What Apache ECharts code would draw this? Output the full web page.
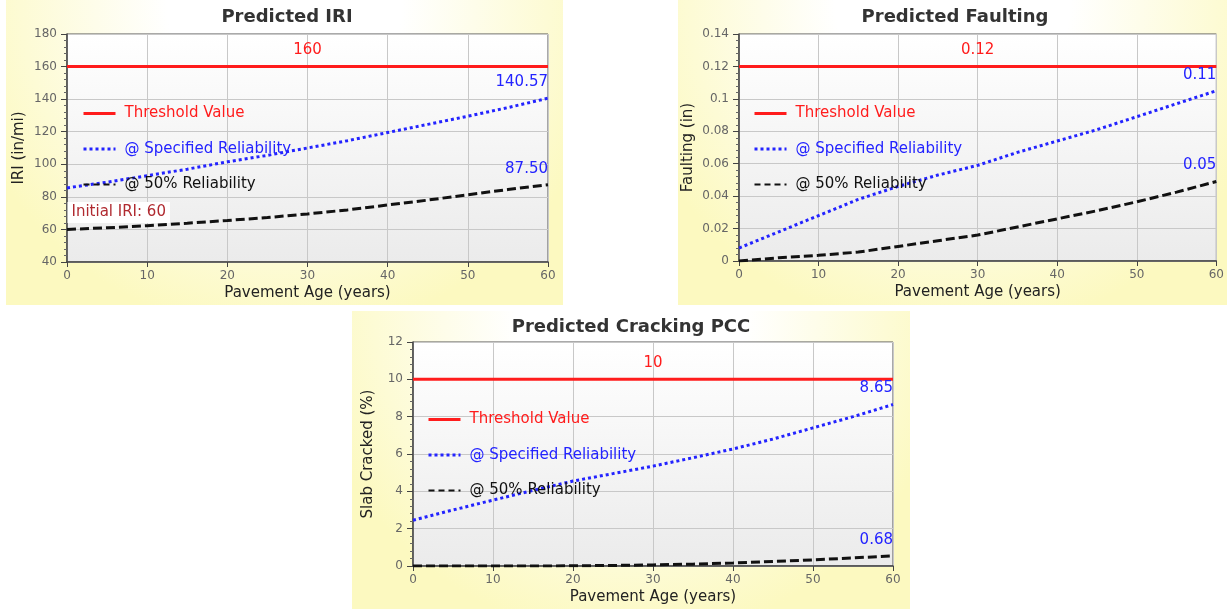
<!DOCTYPE html>
<html>
<head>
<meta charset="utf-8">
<title>Predicted distress</title>
<script src="https://cdn.jsdelivr.net/npm/echarts@6/dist/echarts.min.js"></script>
<style>
  html, body { margin: 0; padding: 0; background: #fff; }
  #chart { width: 1227px; height: 609px; }
</style>
</head>
<body>
<div id="chart"></div>
<script>
// pavement age (years), shared by all three charts
var ages = [0, 5, 10, 15, 20, 25, 30, 35, 40, 45, 50, 55, 60];

// Predicted IRI (in/mi)
var iriThreshold = 160;
var iriSpecified = [85.5, 89, 93, 97, 101.5, 105.5, 110, 114.5, 119.5, 124.5, 129.5, 134.8, 140.57];
var iri50 = [60, 61, 62.3, 63.8, 65.5, 67.3, 69.5, 72, 75, 78, 81.3, 84.5, 87.5];
var iriEndLabels = ['140.57', '87.50'];
var iriInitial = 'Initial IRI: 60';

// Predicted Faulting (in)
var faultThreshold = 0.12;
var faultSpecified = [0.008, 0.018, 0.028, 0.038, 0.046, 0.053, 0.059, 0.067, 0.074, 0.081, 0.089, 0.097, 0.105];
var fault50 = [0, 0.002, 0.0035, 0.0055, 0.009, 0.0125, 0.016, 0.021, 0.026, 0.031, 0.0365, 0.0425, 0.049];
var faultEndLabels = ['0.11', '0.05'];

// Predicted Cracking PCC (% slabs cracked)
var crackThreshold = 10;
var crackSpecified = [2.45, 3.0, 3.53, 4.05, 4.55, 4.95, 5.35, 5.8, 6.27, 6.8, 7.4, 8.0, 8.65];
var crack50 = [0, 0, 0, 0, 0.01, 0.03, 0.06, 0.1, 0.16, 0.24, 0.33, 0.43, 0.55];
var crackEndLabels = ['8.65', '0.68'];

var FONT = '"DejaVu Sans", Verdana, sans-serif';
var RED = '#ff1c1c', BLUE = '#2323ff', BLACK = '#111';
var NAMES = ['Threshold Value', '@ Specified Reliability', '@ 50% Reliability'];

var chart = echarts.init(document.getElementById('chart'));

// panel background: white near the title, light yellow towards the bottom
function panel(x, y, w, h) {
  return {
    type: 'rect', silent: true, z: -10,
    shape: { x: x, y: y, width: w, height: h },
    style: {
      fill: new echarts.graphic.RadialGradient(0.5, 0, 1.1, [
        { offset: 0, color: '#ffffff' },
        { offset: 0.35, color: '#ffffff' },
        { offset: 1, color: '#fcf9c0' }
      ])
    }
  };
}

function grid(left, top, width, height) {
  return {
    left: left, top: top, width: width, height: height,
    show: true, borderColor: '#555', borderWidth: 1,
    backgroundColor: new echarts.graphic.LinearGradient(0, 0, 0, 1, [
      { offset: 0, color: '#ffffff' },
      { offset: 1, color: '#ebebeb' }
    ])
  };
}

function xAxis(gi) {
  return {
    type: 'value', gridIndex: gi, min: 0, max: 60, interval: 10,
    name: 'Pavement Age (years)', nameLocation: 'middle', nameGap: 24,
    nameTextStyle: { fontSize: 15, color: '#222', fontFamily: FONT },
    axisLine: { show: true, onZero: false, lineStyle: { color: '#444', width: 1.5 } },
    axisTick: { show: true, length: 5, lineStyle: { color: '#444' } },
    axisLabel: { fontSize: 12, color: '#666', margin: 8, fontFamily: FONT },
    splitLine: { show: true, lineStyle: { color: '#c8c8c8' } }
  };
}

function yAxis(gi, min, max, interval, name, gap) {
  return {
    type: 'value', gridIndex: gi, min: min, max: max, interval: interval,
    name: name, nameLocation: 'middle', nameGap: gap,
    nameTextStyle: { fontSize: 15, color: '#222', fontFamily: FONT },
    axisLine: { show: true, onZero: false, lineStyle: { color: '#444', width: 1.5 } },
    axisTick: { show: true, length: 6, lineStyle: { color: '#444' } },
    minorTick: { show: true, splitNumber: 5, length: 3, lineStyle: { color: '#666' } },
    axisLabel: { fontSize: 12, color: '#666', margin: 10, fontFamily: FONT },
    splitLine: { show: true, lineStyle: { color: '#c8c8c8' } }
  };
}

function legend(left, top) {
  return {
    orient: 'vertical', left: left, top: top, padding: 0,
    itemWidth: 32, itemHeight: 14, itemGap: 20.5,
    selectedMode: false,
    itemStyle: { opacity: 0 },
    lineStyle: { width: 3 },
    textStyle: { fontSize: 15, fontFamily: FONT, padding: [0, 0, 0, 4] },
    data: [
      { name: NAMES[0], textStyle: { color: RED } },
      { name: NAMES[1], textStyle: { color: BLUE } },
      { name: NAMES[2], textStyle: { color: BLACK }, lineStyle: { width: 2, type: [6, 4] } }
    ]
  };
}

function title(text, cx, top) {
  return {
    text: text, left: cx, top: top, textAlign: 'center', padding: 0,
    textStyle: { fontSize: 18, fontWeight: 'bold', color: '#333', fontFamily: FONT }
  };
}

// build [age, value] points; labels is a map of index -> label options
function points(vals, labels) {
  return ages.map(function (a, i) {
    var item = { value: [a, vals[i]] };
    if (labels && labels[i]) item.label = labels[i];
    return item;
  });
}

function lbl(text, color, extra) {
  var o = {
    show: true, position: 'top', distance: 8, color: color,
    fontSize: 15, fontFamily: FONT, formatter: text
  };
  for (var k in extra) o[k] = extra[k];
  return o;
}

function line(name, gi, data, lineStyle) {
  return {
    name: name, type: 'line', xAxisIndex: gi, yAxisIndex: gi,
    data: data, symbol: 'circle', symbolSize: 1, showSymbol: true,
    itemStyle: { color: 'rgba(0,0,0,0)', borderWidth: 0 },
    lineStyle: lineStyle, color: lineStyle.color,
    emphasis: { disabled: true }
  };
}

function chartSeries(gi, thr, spec, p50, endLabels, extra50) {
  var mid = ages.indexOf(30), last = ages.length - 1;
  var thrLabels = {}; thrLabels[mid] = lbl(String(thr), RED);
  var specLabels = {}; specLabels[last] = lbl(endLabels[0], BLUE, { align: 'right' });
  var p50Labels = {}; p50Labels[last] = lbl(endLabels[1], BLUE, { align: 'right' });
  if (extra50) for (var k in extra50) p50Labels[k] = extra50[k];
  return [
    line(NAMES[0], gi, points(ages.map(function () { return thr; }), thrLabels),
      { color: RED, width: 3 }),
    line(NAMES[2], gi, points(p50, p50Labels),
      { color: BLACK, width: 3, type: [9, 4] }),
    line(NAMES[1], gi, points(spec, specLabels),
      { color: BLUE, width: 3, type: [3, 3] })
  ];
}

var initialLabel = {
  0: {
    show: true, position: [1, -27], align: 'left', verticalAlign: 'top',
    color: '#b02a30', backgroundColor: '#fff', padding: [3, 4, 3, 4],
    fontSize: 15, fontFamily: FONT, formatter: iriInitial
  }
};

var option = {
  animation: false,
  graphic: [panel(6, 0, 557, 305), panel(678, 0, 549, 305), panel(352, 311, 558, 298)],
  title: [
    title('Predicted IRI', 287, 8),
    title('Predicted Faulting', 955, 8),
    title('Predicted Cracking PCC', 631, 318)
  ],
  legend: [legend(82, 106), legend(753, 106), legend(427, 412)],
  grid: [grid(67, 34, 481, 228), grid(739, 34, 480, 227), grid(413, 342, 480, 224)],
  xAxis: [xAxis(0), xAxis(1), xAxis(2)],
  yAxis: [
    yAxis(0, 40, 180, 20, 'IRI (in/mi)', 40),
    yAxis(1, 0, 0.14, 0.02, 'Faulting (in)', 43),
    yAxis(2, 0, 12, 2, 'Slab Cracked (%)', 37)
  ],
  series: [].concat(
    chartSeries(0, iriThreshold, iriSpecified, iri50, iriEndLabels, initialLabel),
    chartSeries(1, faultThreshold, faultSpecified, fault50, faultEndLabels),
    chartSeries(2, crackThreshold, crackSpecified, crack50, crackEndLabels)
  )
};

chart.setOption(option);
</script>
</body>
</html>
